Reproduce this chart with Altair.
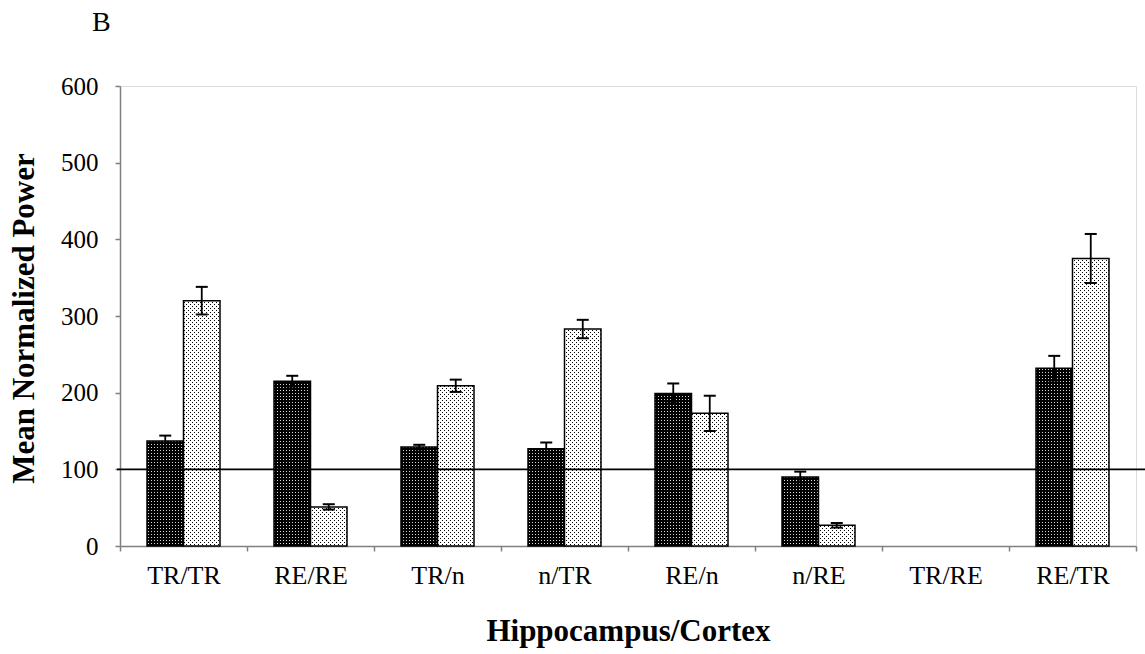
import altair as alt
import jinja2
import pandas as pd

# Hippocampus/Cortex pairings along the x axis
groups = ["TR/TR", "RE/RE", "TR/n", "n/TR", "RE/n", "n/RE", "TR/RE", "RE/TR"]
series = ["Series 1", "Series 2"]

# Mean normalized power (None = no data for that pairing)
series1_mean = [137, 215, 129, 127, 199, 90, None, 232]
series1_err = [7, 7, 3, 8, 13, 7, None, 16]
series2_mean = [320, 51, 209, 283, 173, 27, None, 375]
series2_err = [18, 3.5, 8, 12, 23, 3, None, 32]

y_ticks = [0, 100, 200, 300, 400, 500, 600]
baseline_level = 100

rows = []
for name, means, errs in [(series[0], series1_mean, series1_err),
                          (series[1], series2_mean, series2_err)]:
    for g, m, e in zip(groups, means, errs):
        if m is None:
            continue
        rows.append({"group": g, "series": name, "value": m, "err": e})
df = pd.DataFrame(rows)

FONT = "Liberation Serif"
W, H = 1016, 460

x_enc = alt.X(
    "group:N",
    scale=alt.Scale(domain=groups, paddingInner=0, paddingOuter=0),
    axis=alt.Axis(
        title="Hippocampus/Cortex",
        labelAngle=0,
        labelFont=FONT,
        labelFontSize=26,
        labelColor="black",
        labelPadding=11,
        tickBand="extent",
        tickSize=5,
        tickColor="#808080",
        domainColor="#808080",
        domainWidth=1.5,
        tickWidth=1.5,
        titleFont=FONT,
        titleFontSize=31,
        titleFontWeight="bold",
        titleColor="black",
        titleY=94,
        titleBaseline="alphabetic",
        grid=False,
    ),
)
xoff_enc = alt.XOffset(
    "series:N",
    scale=alt.Scale(domain=series, paddingInner=0, paddingOuter=0.74),
)

base = alt.Chart(df).encode(x=x_enc, xOffset=xoff_enc)

bars = base.mark_bar(stroke="black", strokeWidth=1.5).encode(
    y=alt.Y(
        "value:Q",
        scale=alt.Scale(domain=[0, 600], nice=False),
        axis=alt.Axis(
            values=y_ticks,
            title="Mean Normalized Power",
            labelFont=FONT,
            labelFontSize=25,
            labelColor="black",
            labelPadding=17,
            tickSize=5,
            tickColor="#808080",
            domainColor="#808080",
            domainWidth=1.5,
            tickWidth=1.5,
            titleFont=FONT,
            titleFontSize=31,
            titleFontWeight="bold",
            titleColor="black",
            titleX=-87,
            titleY=232,
            titleAlign="center",
            titleBaseline="alphabetic",
            grid=False,
        ),
    ),
    fill=alt.Fill(
        "series:N",
        scale=alt.Scale(domain=series, range=["url(#dk)", "url(#lt)"]),
        legend=None,
    ),
)

with_bounds = base.transform_calculate(
    lo="datum.value - datum.err", hi="datum.value + datum.err"
)

whisker = with_bounds.mark_rule(color="black", strokeWidth=1.8).encode(
    y="lo:Q", y2="hi:Q"
)
cap_hi = with_bounds.mark_tick(color="black", size=12, thickness=2, opacity=1).encode(
    y="hi:Q"
)
cap_lo = with_bounds.mark_tick(color="black", size=12, thickness=2, opacity=1).encode(
    y="lo:Q"
)

ref_line = alt.Chart(pd.DataFrame({"level": [baseline_level]})).mark_rule(
    color="black", strokeWidth=1.8
).encode(y=alt.Y("level:Q"), x=alt.value(-3), x2=alt.value(W + 9))

chart = (
    alt.layer(bars, whisker, cap_hi, cap_lo, ref_line)
    .properties(
        width=W,
        height=H,
        title=alt.TitleParams(
            "B",
            anchor="start",
            frame="group",
            dx=-28,
            offset=15,
            baseline="alphabetic",
            font=FONT,
            fontSize=28,
            fontWeight="normal",
            color="black",
        ),
        autosize=alt.AutoSizeParams(type="none"),
        padding={"left": 120, "top": 86, "right": 9, "bottom": 108},
    )
    .configure_view(stroke=None)
    .configure(background="white")
)

# Page template: the standard embed page plus the SVG dot patterns used as bar fills
PAGE = jinja2.Template("""<!DOCTYPE html>
<html>
<head>
<style>
  body { margin: 0; }
  #{{ output_div }}.vega-embed { width: 100%; display: flex; }
</style>
<script type="text/javascript" src="{{ base_url }}/vega@{{ vega_version }}"></script>
<script type="text/javascript" src="{{ base_url }}/vega-lite@{{ vegalite_version }}"></script>
<script type="text/javascript" src="{{ base_url }}/vega-embed@{{ vegaembed_version }}"></script>
</head>
<body>
<svg width="0" height="0" style="position:absolute">
  <defs>
    <pattern id="dk" x="0" y="0" width="3" height="3" patternUnits="userSpaceOnUse">
      <rect x="0" y="0" width="3" height="3" fill="#000000"/>
      <rect x="1" y="1" width="1" height="1" fill="#d8d8d8"/>
    </pattern>
    <pattern id="lt" x="0" y="0" width="4" height="4" patternUnits="userSpaceOnUse">
      <rect x="0" y="0" width="4" height="4" fill="#ffffff"/>
      <rect x="0" y="0" width="1" height="1" fill="#000000"/>
      <rect x="2" y="2" width="1" height="1" fill="#000000"/>
    </pattern>
  </defs>
</svg>
<div id="{{ output_div }}"></div>
<script>
  var spec = {{ spec }};
  var embedOpt = {{ embed_options }};
  vegaEmbed("#{{ output_div }}", spec, embedOpt).catch(console.error);
</script>
</body>
</html>
""")

chart.save("out.html", embed_options={"renderer": "svg", "actions": False}, template=PAGE)
